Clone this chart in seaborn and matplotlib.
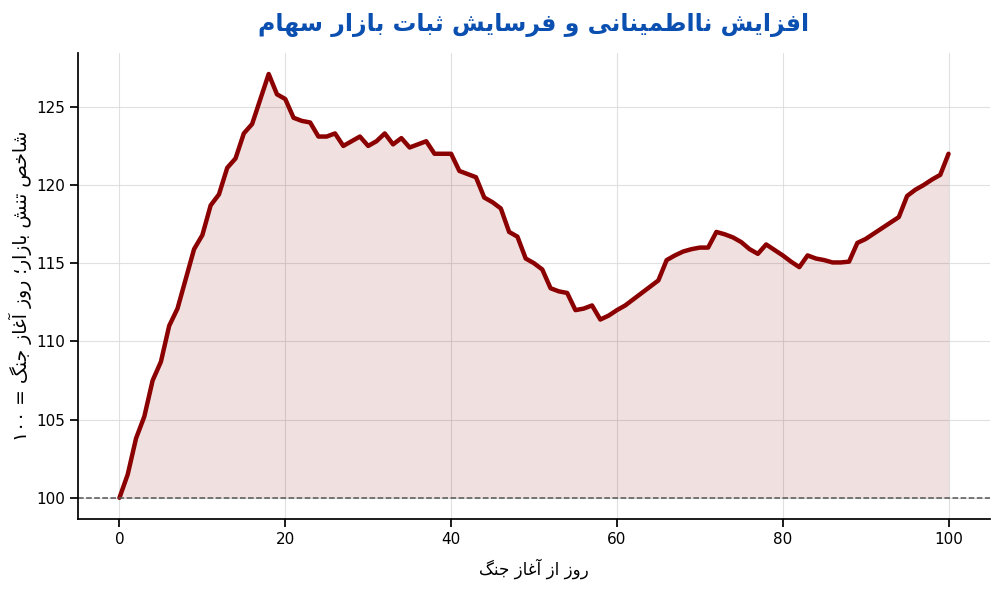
import numpy as np
import pandas as pd
import matplotlib
matplotlib.use("Agg")
import matplotlib.pyplot as plt
import seaborn as sns

# ---------------- data ----------------
days = list(range(0, 101))
stress_index = [
    100.0, 101.5, 103.8, 105.2, 107.5, 108.7, 111.0, 112.1, 114.0, 115.9,
    116.8, 118.7, 119.4, 121.1, 121.7, 123.3, 123.9, 125.5, 127.1, 125.8,
    125.5, 124.3, 124.1, 124.0, 123.1, 123.1, 123.3, 122.5, 122.8, 123.1,
    122.5, 122.8, 123.3, 122.6, 123.0, 122.4, 122.6, 122.8, 122.0, 122.0,
    122.0, 120.9, 120.7, 120.5, 119.2, 118.9, 118.5, 117.0, 116.7, 115.3,
    115.0, 114.6, 113.4, 113.2, 113.1, 112.0, 112.1, 112.3, 111.4, 111.65,
    112.0, 112.3, 112.7, 113.1, 113.5, 113.9, 115.2, 115.5, 115.75, 115.9,
    116.0, 116.0, 117.0, 116.85, 116.65, 116.35, 115.9, 115.6, 116.2, 115.85,
    115.5, 115.1, 114.75, 115.5, 115.3, 115.2, 115.05, 115.05, 115.1, 116.3,
    116.55, 116.9, 117.25, 117.6, 117.95, 119.3, 119.7, 120.0, 120.35, 120.65,
    122.0,
]
baseline = 100
x_ticks = [0, 20, 40, 60, 80, 100]
y_ticks = [100, 105, 110, 115, 120, 125]

title_text = "افزایش نااطمینانی و فرسایش ثبات بازار سهام"
xlabel_text = "روز از آغاز جنگ"
ylabel_text = "شاخص تنش بازار؛ روز آغاز جنگ = ۱۰۰"

# ---------------- minimal Arabic/Persian shaping ----------------
FORMS = {
    # char: (isolated, final, initial, medial)  -- 2-tuple = right-joining only
    "\u0627": ("\uFE8D", "\uFE8E"),
    "\u0622": ("\uFE81", "\uFE82"),
    "\u062F": ("\uFEA9", "\uFEAA"),
    "\u0630": ("\uFEAB", "\uFEAC"),
    "\u0631": ("\uFEAD", "\uFEAE"),
    "\u0632": ("\uFEAF", "\uFEB0"),
    "\u0698": ("\uFB8A", "\uFB8B"),
    "\u0648": ("\uFEED", "\uFEEE"),
    "\u0628": ("\uFE8F", "\uFE90", "\uFE91", "\uFE92"),
    "\u067E": ("\uFB56", "\uFB57", "\uFB58", "\uFB59"),
    "\u062A": ("\uFE95", "\uFE96", "\uFE97", "\uFE98"),
    "\u062B": ("\uFE99", "\uFE9A", "\uFE9B", "\uFE9C"),
    "\u062C": ("\uFE9D", "\uFE9E", "\uFE9F", "\uFEA0"),
    "\u0686": ("\uFB7A", "\uFB7B", "\uFB7C", "\uFB7D"),
    "\u062D": ("\uFEA1", "\uFEA2", "\uFEA3", "\uFEA4"),
    "\u062E": ("\uFEA5", "\uFEA6", "\uFEA7", "\uFEA8"),
    "\u0633": ("\uFEB1", "\uFEB2", "\uFEB3", "\uFEB4"),
    "\u0634": ("\uFEB5", "\uFEB6", "\uFEB7", "\uFEB8"),
    "\u0635": ("\uFEB9", "\uFEBA", "\uFEBB", "\uFEBC"),
    "\u0636": ("\uFEBD", "\uFEBE", "\uFEBF", "\uFEC0"),
    "\u0637": ("\uFEC1", "\uFEC2", "\uFEC3", "\uFEC4"),
    "\u0638": ("\uFEC5", "\uFEC6", "\uFEC7", "\uFEC8"),
    "\u0639": ("\uFEC9", "\uFECA", "\uFECB", "\uFECC"),
    "\u063A": ("\uFECD", "\uFECE", "\uFECF", "\uFED0"),
    "\u0641": ("\uFED1", "\uFED2", "\uFED3", "\uFED4"),
    "\u0642": ("\uFED5", "\uFED6", "\uFED7", "\uFED8"),
    "\u06A9": ("\uFB8E", "\uFB8F", "\uFB90", "\uFB91"),
    "\u06AF": ("\uFB92", "\uFB93", "\uFB94", "\uFB95"),
    "\u0644": ("\uFEDD", "\uFEDE", "\uFEDF", "\uFEE0"),
    "\u0645": ("\uFEE1", "\uFEE2", "\uFEE3", "\uFEE4"),
    "\u0646": ("\uFEE5", "\uFEE6", "\uFEE7", "\uFEE8"),
    "\u0647": ("\uFEE9", "\uFEEA", "\uFEEB", "\uFEEC"),
    "\u06CC": ("\uFBFC", "\uFBFD", "\uFBFE", "\uFBFF"),
}


def shape(text):
    out = []
    n = len(text)
    for i, ch in enumerate(text):
        f = FORMS.get(ch)
        if f is None:
            out.append(ch)
            continue
        prev = text[i - 1] if i > 0 else ""
        nxt = text[i + 1] if i < n - 1 else ""
        join_prev = prev in FORMS and len(FORMS[prev]) == 4
        join_next = len(f) == 4 and nxt in FORMS
        if join_prev and join_next:
            out.append(f[3])
        elif join_prev:
            out.append(f[1])
        elif join_next:
            out.append(f[2])
        else:
            out.append(f[0])
    return "".join(out)


def is_ltr(ch):
    return ch.isdigit() or ("a" <= ch.lower() <= "z")


def rtl(text):
    s = shape(text)
    tokens = []
    buf = ""
    mode = None
    for ch in s:
        m = is_ltr(ch)
        if mode is None or m == mode:
            buf += ch
        else:
            tokens.append((mode, buf))
            buf = ch
        mode = m
    if buf:
        tokens.append((mode, buf))
    res = []
    for m, t in reversed(tokens):
        res.append(t if m else t[::-1])
    return "".join(res)


# ---------------- plot ----------------
sns.set_theme(style="ticks", context="notebook")
plt.rcParams["font.family"] = ["DejaVu Sans"]
plt.rcParams["text.color"] = "black"
plt.rcParams["axes.labelcolor"] = "black"
plt.rcParams["xtick.color"] = "black"
plt.rcParams["ytick.color"] = "black"
plt.rcParams["axes.edgecolor"] = "black"

df = pd.DataFrame({"day": days, "value": stress_index})

fig, ax = plt.subplots(figsize=(10, 6), dpi=100)
fig.subplots_adjust(left=0.078, right=0.99, top=0.912, bottom=0.135)

ax.fill_between(df["day"], baseline, df["value"], color="#8B0000", alpha=0.12, linewidth=0)
sns.lineplot(data=df, x="day", y="value", ax=ax, color="#8B0000", linewidth=3.2)
ax.axhline(baseline, color="#555555", linestyle="--", linewidth=1.1)

ax.grid(True, color="#d9d9d9", linewidth=0.8, alpha=0.8)
ax.set_axisbelow(True)
sns.despine(ax=ax)

ax.set_xticks(x_ticks)
ax.set_yticks(y_ticks)
ax.tick_params(labelsize=11, colors="black")

ax.set_title(rtl(title_text), fontsize=17, fontweight="bold", color="#0b50b0", pad=16)
ax.set_xlabel(rtl(xlabel_text), fontsize=12, labelpad=8)
ax.set_ylabel(rtl(ylabel_text), fontsize=13.5, labelpad=3)

fig.savefig("out.png", dpi=100)
